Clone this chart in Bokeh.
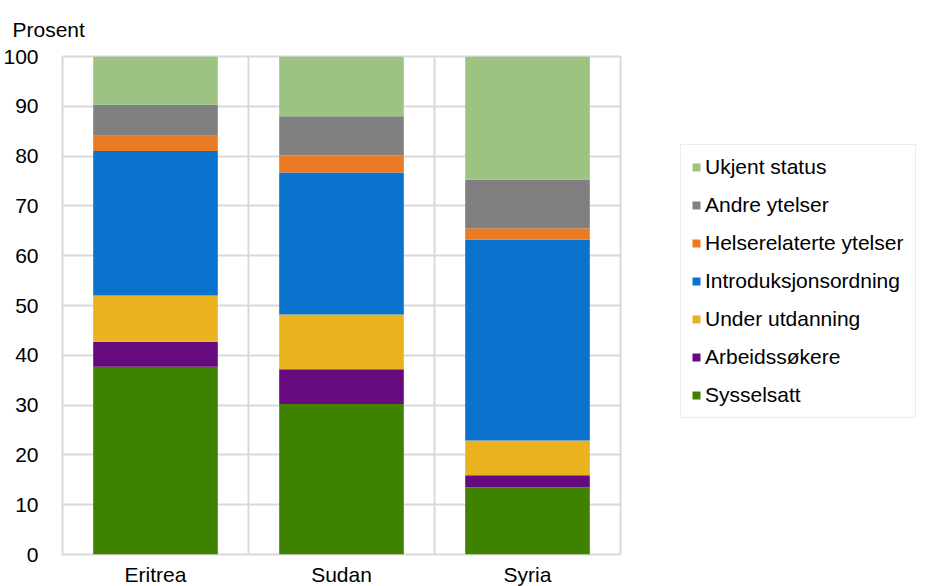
from bokeh.plotting import figure
from bokeh.models import ColumnDataSource, FactorRange, Range1d, FixedTicker, Legend, LegendItem, Span
from bokeh.embed import file_html
from bokeh.resources import INLINE

countries = ["Eritrea", "Sudan", "Syria"]
series = ["Sysselsatt", "Arbeidssøkere", "Under utdanning", "Introduksjonsordning",
          "Helserelaterte ytelser", "Andre ytelser", "Ukjent status"]
sysselsatt = [37.7, 30.2, 13.5]
arbeidssokere = [5.0, 7.0, 2.4]
under_utdanning = [9.3, 11.0, 7.0]
introduksjon = [29.0, 28.5, 40.3]
helse = [3.1, 3.4, 2.3]
andre = [6.2, 7.9, 9.8]
ukjent = [9.7, 12.0, 24.7]
y_ticks = [0, 10, 20, 30, 40, 50, 60, 70, 80, 90, 100]
colors = ["#3F8200", "#660A80", "#EBB220", "#0A73CE", "#EA7A24", "#808080", "#9DC383"]

keys = ["s0", "s1", "s2", "s3", "s4", "s5", "s6"]
data = dict(x=countries)
for k, v in zip(keys, [sysselsatt, arbeidssokere, under_utdanning, introduksjon, helse, andre, ukjent]):
    data[k] = v
src = ColumnDataSource(data)

FONT = "Liberation Sans"
FS = "21px"

p = figure(x_range=FactorRange(*countries, range_padding=0), y_range=Range1d(0, 100),
           frame_width=558, frame_height=498, min_border_left=54, min_border_top=56,
           min_border_right=299, min_border_bottom=10,
           output_backend="svg", toolbar_location=None, title="Prosent")

p.title.text_font = FONT
p.title.text_font_size = FS
p.title.text_font_style = "normal"
p.title.text_color = "#000000"
p.title.align = "left"
p.title.vertical_align = "top"
p.title.offset = -50
p.title.standoff = 28

renderers = p.vbar_stack(keys, x="x", width=0.67, source=src, color=colors, line_width=0)

p.outline_line_color = "#D9D9D9"
p.outline_line_width = 2
p.ygrid.ticker = FixedTicker(ticks=y_ticks)
p.ygrid.grid_line_color = "#D9D9D9"
p.ygrid.grid_line_width = 2
p.xgrid.grid_line_color = None
for loc in [1, 2]:
    p.add_layout(Span(location=loc, dimension="height", line_color="#D9D9D9", line_width=2, level="underlay"))

p.yaxis.ticker = FixedTicker(ticks=y_ticks)
for ax in (p.xaxis, p.yaxis):
    ax.axis_line_color = None
    ax.major_tick_line_color = None
    ax.minor_tick_line_color = None
    ax.major_label_text_font = FONT
    ax.major_label_text_font_size = FS
    ax.major_label_text_color = "#000000"
p.yaxis.major_label_standoff = 18
p.xaxis.major_label_standoff = 2

items = [LegendItem(label=s, renderers=[r]) for s, r in zip(series, renderers)][::-1]
legend = Legend(items=items, location=(60, 136), padding=10, spacing=14, margin=0,
                glyph_width=10, glyph_height=10, label_standoff=4, label_height=24,
                label_width=200,
                label_text_font=FONT, label_text_font_size=FS,
                label_text_color="#000000", border_line_color="#D9D9D9", border_line_width=1,
                background_fill_alpha=0)
p.add_layout(legend, "right")

open("out.html", "w").write(file_html(p, INLINE))
